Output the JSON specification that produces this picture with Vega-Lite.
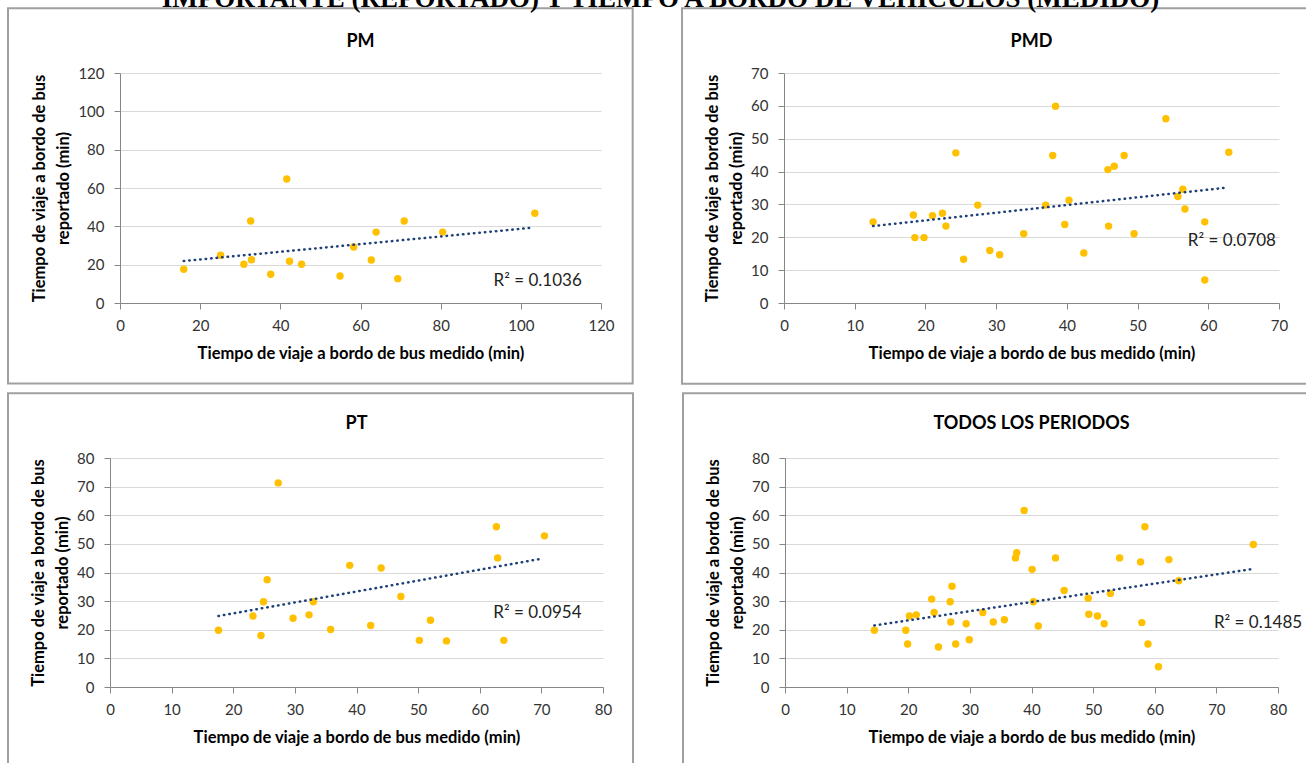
{
  "$schema": "https://vega.github.io/schema/vega-lite/v6.json",
  "padding": {"top": -15, "left": -41, "right": 0, "bottom": 0},
  "background": "white",
  "title": {"text": "IMPORTANTE (REPORTADO) Y TIEMPO A BORDO DE VEHÍCULOS (MEDIDO)", "font": "Liberation Serif", "fontSize": 27, "fontWeight": "bold", "color": "#000", "anchor": "middle", "baseline": "alphabetic", "offset": -27, "dx": 20},
  "config": {
    "font": "Lato",
    "view": {"stroke": null},
    "axis": {"domainColor": "#868686", "tickColor": "#868686", "gridColor": "#d9d9d9", "labelFont": "Lato", "labelFontSize": 15, "labelColor": "#333", "titleFont": "Lato", "titleFontSize": 16.5, "titleFontWeight": "bold", "titleColor": "#000", "tickSize": 6, "labelFlush": false, "labelOverlap": false},
    "axisX": {"grid": false, "labelPadding": 9, "titlePadding": 12},
    "axisY": {"grid": true, "labelPadding": 10, "titlePadding": 6, "titleLineHeight": 24}
  },
  "datasets": {
    "pm": [
      {"x": 15.9, "y": 17.6}, {"x": 25.1, "y": 24.9}, {"x": 30.9, "y": 20.2}, {"x": 32.6, "y": 42.8}, {"x": 32.8, "y": 22.6},
      {"x": 37.6, "y": 15.0}, {"x": 41.6, "y": 64.7}, {"x": 42.3, "y": 21.8}, {"x": 45.3, "y": 20.2}, {"x": 54.9, "y": 14.1},
      {"x": 58.3, "y": 29.2}, {"x": 62.7, "y": 22.4}, {"x": 63.9, "y": 37.0}, {"x": 69.3, "y": 12.7}, {"x": 70.9, "y": 42.8},
      {"x": 80.5, "y": 37.0}, {"x": 103.5, "y": 46.8}
    ],
    "pm_trend": [{"x": 15.9, "y": 21.9}, {"x": 103.0, "y": 39.3}],
    "pmd": [
      {"x": 12.6, "y": 24.7}, {"x": 18.3, "y": 26.8}, {"x": 18.5, "y": 19.9}, {"x": 19.8, "y": 19.9}, {"x": 21.0, "y": 26.6},
      {"x": 22.4, "y": 27.3}, {"x": 22.9, "y": 23.4}, {"x": 24.3, "y": 45.7}, {"x": 25.4, "y": 13.3}, {"x": 27.4, "y": 29.8},
      {"x": 29.1, "y": 16.0}, {"x": 30.5, "y": 14.7}, {"x": 33.9, "y": 21.1}, {"x": 37.0, "y": 29.8}, {"x": 38.0, "y": 44.9},
      {"x": 38.4, "y": 59.9}, {"x": 39.7, "y": 23.9}, {"x": 40.3, "y": 31.3}, {"x": 42.4, "y": 15.2}, {"x": 45.8, "y": 40.6},
      {"x": 45.9, "y": 23.4}, {"x": 46.7, "y": 41.6}, {"x": 48.1, "y": 44.9}, {"x": 49.5, "y": 21.1}, {"x": 54.0, "y": 56.1},
      {"x": 55.7, "y": 32.4}, {"x": 56.4, "y": 34.6}, {"x": 56.7, "y": 28.6}, {"x": 59.5, "y": 24.7}, {"x": 59.5, "y": 7.0},
      {"x": 62.9, "y": 45.9}
    ],
    "pmd_trend": [{"x": 12.6, "y": 23.4}, {"x": 62.6, "y": 35.1}],
    "pt": [
      {"x": 17.6, "y": 19.8}, {"x": 23.2, "y": 24.8}, {"x": 24.5, "y": 18.0}, {"x": 24.9, "y": 29.8}, {"x": 25.5, "y": 37.5},
      {"x": 27.3, "y": 71.3}, {"x": 29.7, "y": 24.0}, {"x": 32.3, "y": 25.2}, {"x": 33.0, "y": 29.8}, {"x": 35.8, "y": 20.1},
      {"x": 38.9, "y": 42.5}, {"x": 42.3, "y": 21.5}, {"x": 44.0, "y": 41.6}, {"x": 47.2, "y": 31.6}, {"x": 50.2, "y": 16.3},
      {"x": 52.0, "y": 23.3}, {"x": 54.6, "y": 16.1}, {"x": 62.7, "y": 56.0}, {"x": 62.9, "y": 45.1}, {"x": 63.9, "y": 16.3},
      {"x": 70.5, "y": 52.8}
    ],
    "pt_trend": [{"x": 17.6, "y": 24.8}, {"x": 70.0, "y": 44.8}],
    "todos": [
      {"x": 14.5, "y": 19.8}, {"x": 19.6, "y": 19.8}, {"x": 19.9, "y": 15.0}, {"x": 20.2, "y": 24.8}, {"x": 21.3, "y": 25.2},
      {"x": 23.8, "y": 30.7}, {"x": 24.2, "y": 26.0}, {"x": 24.9, "y": 14.0}, {"x": 26.8, "y": 29.8}, {"x": 26.9, "y": 22.7},
      {"x": 27.1, "y": 35.2}, {"x": 27.7, "y": 15.0}, {"x": 29.4, "y": 22.1}, {"x": 29.9, "y": 16.5}, {"x": 32.1, "y": 26.0},
      {"x": 33.8, "y": 22.7}, {"x": 35.6, "y": 23.5}, {"x": 37.4, "y": 45.1}, {"x": 37.6, "y": 46.9}, {"x": 38.8, "y": 61.7},
      {"x": 40.1, "y": 41.1}, {"x": 40.3, "y": 29.8}, {"x": 41.1, "y": 21.3}, {"x": 43.9, "y": 45.1}, {"x": 45.3, "y": 33.7},
      {"x": 49.2, "y": 31.0}, {"x": 49.3, "y": 25.4}, {"x": 50.7, "y": 24.8}, {"x": 51.8, "y": 22.1}, {"x": 52.8, "y": 32.7},
      {"x": 54.3, "y": 45.1}, {"x": 57.7, "y": 43.7}, {"x": 57.9, "y": 22.5}, {"x": 58.4, "y": 56.0}, {"x": 58.9, "y": 15.0},
      {"x": 60.6, "y": 7.1}, {"x": 62.3, "y": 44.5}, {"x": 63.9, "y": 37.1}, {"x": 76.0, "y": 49.8}
    ],
    "todos_trend": [{"x": 14.5, "y": 21.5}, {"x": 75.5, "y": 41.1}]
  },
  "concat": [
    {
      "hconcat": [
        {"width": 1, "height": 1, "data": {"values": [{"s": ""}]}, "mark": {"type": "text", "text": ""}, "encoding": {}},
        {
          "width": 481, "height": 230,
          "title": {"text": "PM", "frame": "group", "anchor": "middle", "offset": -58, "baseline": "alphabetic", "fontSize": 18, "font": "Lato", "fontWeight": "bold", "color": "#000"},
          "layer": [
            {"data": {"values": [{"panel": "PM"}]}, "mark": {"type": "rect", "fillOpacity": 0, "stroke": "#a0a0a0", "strokeWidth": 2, "clip": false},
             "encoding": {"x": {"datum": -27.94, "type": "quantitative", "scale": {"domain": [0, 120], "nice": false}, "axis": {"values": [0, 20, 40, 60, 80, 100, 120], "title": "Tiempo de viaje a bordo de bus medido (min)"}}, "x2": {"datum": 127.9},
                          "y": {"datum": 153.76, "type": "quantitative", "scale": {"domain": [0, 120], "nice": false}, "axis": {"values": [0, 20, 40, 60, 80, 100, 120], "title": ["Tiempo de viaje a bordo de bus", "reportado (min)"]}}, "y2": {"datum": -42.05}}},
            {"data": {"name": "pm"}, "mark": {"type": "circle", "color": "#ffc000", "size": 55, "opacity": 1},
             "encoding": {"x": {"field": "x", "type": "quantitative", "scale": {"domain": [0, 120], "nice": false}, "axis": {"values": [0, 20, 40, 60, 80, 100, 120], "title": "Tiempo de viaje a bordo de bus medido (min)"}},
                          "y": {"field": "y", "type": "quantitative", "scale": {"domain": [0, 120], "nice": false}, "axis": {"values": [0, 20, 40, 60, 80, 100, 120], "title": ["Tiempo de viaje a bordo de bus", "reportado (min)"]}}}},
            {"data": {"name": "pm_trend"}, "mark": {"type": "line", "color": "#1f3f78", "strokeWidth": 2.5, "strokeDash": [0.5, 5], "strokeCap": "round"},
             "encoding": {"x": {"field": "x", "type": "quantitative", "scale": {"domain": [0, 120], "nice": false}, "axis": {"values": [0, 20, 40, 60, 80, 100, 120], "title": "Tiempo de viaje a bordo de bus medido (min)"}},
                          "y": {"field": "y", "type": "quantitative", "scale": {"domain": [0, 120], "nice": false}, "axis": {"values": [0, 20, 40, 60, 80, 100, 120], "title": ["Tiempo de viaje a bordo de bus", "reportado (min)"]}}}},
            {"data": {"values": [{"label": "R² = 0.1036"}]}, "mark": {"type": "text", "align": "left", "baseline": "middle", "fontSize": 17, "font": "Lato", "color": "#222"},
             "encoding": {"x": {"datum": 93.2, "type": "quantitative", "scale": {"domain": [0, 120], "nice": false}, "axis": {"values": [0, 20, 40, 60, 80, 100, 120], "title": "Tiempo de viaje a bordo de bus medido (min)"}},
                          "y": {"datum": 11.3, "type": "quantitative", "scale": {"domain": [0, 120], "nice": false}, "axis": {"values": [0, 20, 40, 60, 80, 100, 120], "title": ["Tiempo de viaje a bordo de bus", "reportado (min)"]}}, "text": {"field": "label"}}}
          ]
        },
        {
          "width": 495, "height": 230,
          "title": {"text": "PMD", "frame": "group", "anchor": "middle", "offset": -58, "baseline": "alphabetic", "fontSize": 18, "font": "Lato", "fontWeight": "bold", "color": "#000"},
          "layer": [
            {"data": {"values": [{"panel": "PMD"}]}, "mark": {"type": "rect", "fillOpacity": 0, "stroke": "#a0a0a0", "strokeWidth": 2, "clip": false},
             "encoding": {"x": {"datum": -14.42, "type": "quantitative", "scale": {"domain": [0, 70], "nice": false}, "axis": {"values": [0, 10, 20, 30, 40, 50, 60, 70], "title": "Tiempo de viaje a bordo de bus medido (min)"}}, "x2": {"datum": 75.8},
                          "y": {"datum": 89.69, "type": "quantitative", "scale": {"domain": [0, 70], "nice": false}, "axis": {"values": [0, 10, 20, 30, 40, 50, 60, 70], "title": ["Tiempo de viaje a bordo de bus", "reportado (min)"]}}, "y2": {"datum": -24.59}}},
            {"data": {"name": "pmd"}, "mark": {"type": "circle", "color": "#ffc000", "size": 55, "opacity": 1},
             "encoding": {"x": {"field": "x", "type": "quantitative", "scale": {"domain": [0, 70], "nice": false}, "axis": {"values": [0, 10, 20, 30, 40, 50, 60, 70], "title": "Tiempo de viaje a bordo de bus medido (min)"}},
                          "y": {"field": "y", "type": "quantitative", "scale": {"domain": [0, 70], "nice": false}, "axis": {"values": [0, 10, 20, 30, 40, 50, 60, 70], "title": ["Tiempo de viaje a bordo de bus", "reportado (min)"]}}}},
            {"data": {"name": "pmd_trend"}, "mark": {"type": "line", "color": "#1f3f78", "strokeWidth": 2.5, "strokeDash": [0.5, 5], "strokeCap": "round"},
             "encoding": {"x": {"field": "x", "type": "quantitative", "scale": {"domain": [0, 70], "nice": false}, "axis": {"values": [0, 10, 20, 30, 40, 50, 60, 70], "title": "Tiempo de viaje a bordo de bus medido (min)"}},
                          "y": {"field": "y", "type": "quantitative", "scale": {"domain": [0, 70], "nice": false}, "axis": {"values": [0, 10, 20, 30, 40, 50, 60, 70], "title": ["Tiempo de viaje a bordo de bus", "reportado (min)"]}}}},
            {"data": {"values": [{"label": "R² = 0.0708"}]}, "mark": {"type": "text", "align": "left", "baseline": "middle", "fontSize": 17, "font": "Lato", "color": "#222"},
             "encoding": {"x": {"datum": 57.1, "type": "quantitative", "scale": {"domain": [0, 70], "nice": false}, "axis": {"values": [0, 10, 20, 30, 40, 50, 60, 70], "title": "Tiempo de viaje a bordo de bus medido (min)"}},
                          "y": {"datum": 18.8, "type": "quantitative", "scale": {"domain": [0, 70], "nice": false}, "axis": {"values": [0, 10, 20, 30, 40, 50, 60, 70], "title": ["Tiempo de viaje a bordo de bus", "reportado (min)"]}}, "text": {"field": "label"}}}
          ]
        }
      ],
      "spacing": 47
    },
    {
      "hconcat": [
        {"width": 1, "height": 1, "data": {"values": [{"s": ""}]}, "mark": {"type": "text", "text": ""}, "encoding": {}},
        {
          "width": 493, "height": 229,
          "title": {"text": "PT", "frame": "group", "anchor": "middle", "offset": -55, "baseline": "alphabetic", "fontSize": 18, "font": "Lato", "fontWeight": "bold", "color": "#000"},
          "layer": [
            {"data": {"values": [{"panel": "PT"}]}, "mark": {"type": "rect", "fillOpacity": 0, "stroke": "#a0a0a0", "strokeWidth": 2, "clip": false},
             "encoding": {"x": {"datum": -16.55, "type": "quantitative", "scale": {"domain": [0, 80], "nice": false}, "axis": {"values": [0, 10, 20, 30, 40, 50, 60, 70, 80], "title": "Tiempo de viaje a bordo de bus medido (min)"}}, "x2": {"datum": 84.87},
                          "y": {"datum": 102.6, "type": "quantitative", "scale": {"domain": [0, 80], "nice": false}, "axis": {"values": [0, 10, 20, 30, 40, 50, 60, 70, 80], "title": ["Tiempo de viaje a bordo de bus", "reportado (min)"]}}, "y2": {"datum": -32.5}}},
            {"data": {"name": "pt"}, "mark": {"type": "circle", "color": "#ffc000", "size": 55, "opacity": 1},
             "encoding": {"x": {"field": "x", "type": "quantitative", "scale": {"domain": [0, 80], "nice": false}, "axis": {"values": [0, 10, 20, 30, 40, 50, 60, 70, 80], "title": "Tiempo de viaje a bordo de bus medido (min)"}},
                          "y": {"field": "y", "type": "quantitative", "scale": {"domain": [0, 80], "nice": false}, "axis": {"values": [0, 10, 20, 30, 40, 50, 60, 70, 80], "title": ["Tiempo de viaje a bordo de bus", "reportado (min)"]}}}},
            {"data": {"name": "pt_trend"}, "mark": {"type": "line", "color": "#1f3f78", "strokeWidth": 2.5, "strokeDash": [0.5, 5], "strokeCap": "round"},
             "encoding": {"x": {"field": "x", "type": "quantitative", "scale": {"domain": [0, 80], "nice": false}, "axis": {"values": [0, 10, 20, 30, 40, 50, 60, 70, 80], "title": "Tiempo de viaje a bordo de bus medido (min)"}},
                          "y": {"field": "y", "type": "quantitative", "scale": {"domain": [0, 80], "nice": false}, "axis": {"values": [0, 10, 20, 30, 40, 50, 60, 70, 80], "title": ["Tiempo de viaje a bordo de bus", "reportado (min)"]}}}},
            {"data": {"values": [{"label": "R² = 0.0954"}]}, "mark": {"type": "text", "align": "left", "baseline": "middle", "fontSize": 17, "font": "Lato", "color": "#222"},
             "encoding": {"x": {"datum": 62.2, "type": "quantitative", "scale": {"domain": [0, 80], "nice": false}, "axis": {"values": [0, 10, 20, 30, 40, 50, 60, 70, 80], "title": "Tiempo de viaje a bordo de bus medido (min)"}},
                          "y": {"datum": 25.9, "type": "quantitative", "scale": {"domain": [0, 80], "nice": false}, "axis": {"values": [0, 10, 20, 30, 40, 50, 60, 70, 80], "title": ["Tiempo de viaje a bordo de bus", "reportado (min)"]}}, "text": {"field": "label"}}}
          ]
        },
        {
          "width": 493, "height": 229,
          "title": {"text": "TODOS LOS PERIODOS", "frame": "group", "anchor": "middle", "offset": -55, "baseline": "alphabetic", "fontSize": 18, "font": "Lato", "fontWeight": "bold", "color": "#000"},
          "layer": [
            {"data": {"values": [{"panel": "TODOS"}]}, "mark": {"type": "rect", "fillOpacity": 0, "stroke": "#a0a0a0", "strokeWidth": 2, "clip": false},
             "encoding": {"x": {"datum": -16.55, "type": "quantitative", "scale": {"domain": [0, 80], "nice": false}, "axis": {"values": [0, 10, 20, 30, 40, 50, 60, 70, 80], "title": "Tiempo de viaje a bordo de bus medido (min)"}}, "x2": {"datum": 86.98},
                          "y": {"datum": 102.6, "type": "quantitative", "scale": {"domain": [0, 80], "nice": false}, "axis": {"values": [0, 10, 20, 30, 40, 50, 60, 70, 80], "title": ["Tiempo de viaje a bordo de bus", "reportado (min)"]}}, "y2": {"datum": -32.5}}},
            {"data": {"name": "todos"}, "mark": {"type": "circle", "color": "#ffc000", "size": 55, "opacity": 1},
             "encoding": {"x": {"field": "x", "type": "quantitative", "scale": {"domain": [0, 80], "nice": false}, "axis": {"values": [0, 10, 20, 30, 40, 50, 60, 70, 80], "title": "Tiempo de viaje a bordo de bus medido (min)"}},
                          "y": {"field": "y", "type": "quantitative", "scale": {"domain": [0, 80], "nice": false}, "axis": {"values": [0, 10, 20, 30, 40, 50, 60, 70, 80], "title": ["Tiempo de viaje a bordo de bus", "reportado (min)"]}}}},
            {"data": {"name": "todos_trend"}, "mark": {"type": "line", "color": "#1f3f78", "strokeWidth": 2.5, "strokeDash": [0.5, 5], "strokeCap": "round"},
             "encoding": {"x": {"field": "x", "type": "quantitative", "scale": {"domain": [0, 80], "nice": false}, "axis": {"values": [0, 10, 20, 30, 40, 50, 60, 70, 80], "title": "Tiempo de viaje a bordo de bus medido (min)"}},
                          "y": {"field": "y", "type": "quantitative", "scale": {"domain": [0, 80], "nice": false}, "axis": {"values": [0, 10, 20, 30, 40, 50, 60, 70, 80], "title": ["Tiempo de viaje a bordo de bus", "reportado (min)"]}}}},
            {"data": {"values": [{"label": "R² = 0.1485"}]}, "mark": {"type": "text", "align": "left", "baseline": "middle", "fontSize": 17, "font": "Lato", "color": "#222"},
             "encoding": {"x": {"datum": 69.6, "type": "quantitative", "scale": {"domain": [0, 80], "nice": false}, "axis": {"values": [0, 10, 20, 30, 40, 50, 60, 70, 80], "title": "Tiempo de viaje a bordo de bus medido (min)"}},
                          "y": {"datum": 22.4, "type": "quantitative", "scale": {"domain": [0, 80], "nice": false}, "axis": {"values": [0, 10, 20, 30, 40, 50, 60, 70, 80], "title": ["Tiempo de viaje a bordo de bus", "reportado (min)"]}}, "text": {"field": "label"}}}
          ]
        }
      ],
      "spacing": 47
    }
  ],
  "columns": 1,
  "align": "none",
  "spacing": 7
}
